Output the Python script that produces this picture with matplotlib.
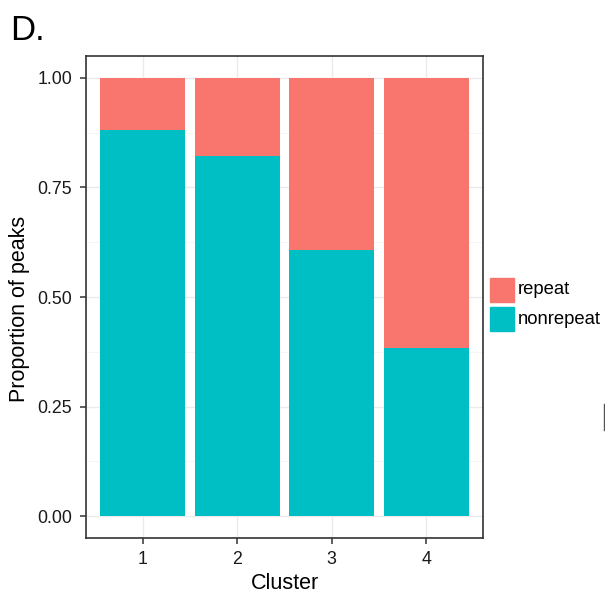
import numpy as np
import matplotlib.pyplot as plt
from matplotlib.patches import Rectangle
from matplotlib.lines import Line2D

plt.rcParams['font.family'] = ['Liberation Sans', 'DejaVu Sans']

clusters = ['1', '2', '3', '4']
nonrepeat = [0.881, 0.822, 0.607, 0.384]
repeat = [1 - v for v in nonrepeat]

col_repeat = '#F8766D'
col_nonrepeat = '#00BFC4'

fig = plt.figure(figsize=(6.05, 6.02), dpi=100)
ax = fig.add_axes([86/605, 64/602, 397/605, 482/602])

x = np.arange(1, len(clusters) + 1)
ax.bar(x, nonrepeat, width=0.9, color=col_nonrepeat, zorder=2)
ax.bar(x, repeat, bottom=nonrepeat, width=0.9, color=col_repeat, zorder=2)

ax.set_xlim(0.4, 4.6)
ax.set_ylim(-0.05, 1.05)
ax.set_xticks(x)
ax.set_xticklabels(clusters)
ax.set_yticks([0, 0.25, 0.5, 0.75, 1.0])
ax.set_yticklabels(['0.00', '0.25', '0.50', '0.75', '1.00'])
ax.set_yticks([0.125, 0.375, 0.625, 0.875], minor=True)
ax.tick_params(axis='y', which='minor', length=0)

ax.grid(True, which='major', color='#EBEBEB', lw=1.0, zorder=0)
ax.grid(True, which='minor', axis='y', color='#F5F5F5', lw=0.6, zorder=0)

for s in ax.spines.values():
    s.set_color('#333333')
    s.set_linewidth(1.2)
ax.tick_params(which='major', length=4, width=1.1, color='#333333',
               labelsize=12.8, labelcolor='#1a1a1a')
ax.tick_params(axis='y', pad=6)
ax.tick_params(axis='x', pad=5)

ax.set_xlabel('Cluster', fontsize=15.5)
ax.set_ylabel('Proportion of peaks', fontsize=15.5)
ax.xaxis.set_label_coords(0.5, -(589 - 538) / 482, transform=ax.transAxes)
ax.xaxis.label.set_va('baseline')
ax.yaxis.set_label_coords(-(86 - 9) / 397, 0.475, transform=ax.transAxes)
ax.yaxis.label.set_va('top')

fig.text(10/605, 1 - 40/602, 'D.', fontsize=25, va='baseline')

# legend
fig.patches.append(Rectangle((490/605, 1 - 302/602), 24/605, 24/602,
                             transform=fig.transFigure, color=col_repeat))
fig.patches.append(Rectangle((490/605, 1 - 331/602), 24/605, 24/602,
                             transform=fig.transFigure, color=col_nonrepeat))
fig.text(518/605, 1 - 290/602, 'repeat', fontsize=13.3, va='center')
fig.text(518/605, 1 - 319/602, 'nonrepeat', fontsize=13.3, va='center')

# stray edge from neighbouring panel
fig.add_artist(Line2D([604/605, 604/605], [1 - 430/602, 1 - 404/602],
                      transform=fig.transFigure, color='#555555', lw=1))

fig.savefig('out.png', dpi=100)
